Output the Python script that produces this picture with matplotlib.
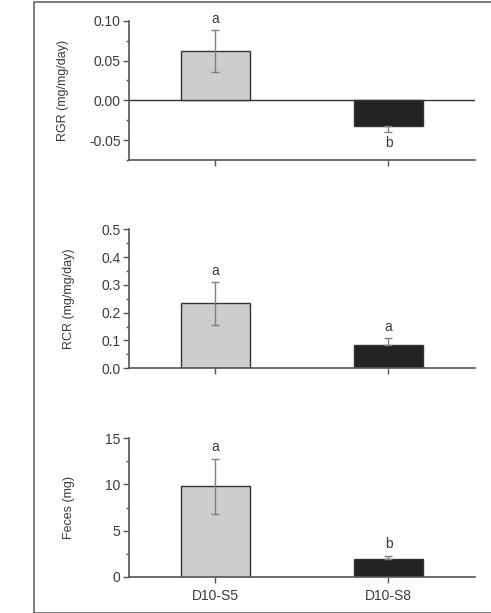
import matplotlib
matplotlib.use("Agg")
import matplotlib.pyplot as plt
from matplotlib.ticker import MultipleLocator
from matplotlib.patches import Rectangle

plt.rcParams['font.family'] = ['Liberation Sans', 'DejaVu Sans']

# Datos
grupos = ["D10-S5", "D10-S8"]

rgr = [0.062, -0.032]
rgr_err = [0.026, 0.008]
rgr_letras = ["a", "b"]

rcr = [0.234, 0.085]
rcr_err = [0.077, 0.025]
rcr_letras = ["a", "a"]

heces = [9.83, 1.89]
heces_err = [2.98, 0.40]
heces_letras = ["a", "b"]

colores = ["#cdcdcd", "#232323"]
gris = "#555555"

fig = plt.figure(figsize=(4.91, 6.13), dpi=100)

# marco exterior
fig.patches.append(Rectangle((34 / 491, 0.3 / 613), 1.0, 1 - 2.6 / 613,
                             transform=fig.transFigure, fill=False,
                             edgecolor="#666666", linewidth=1.2))

paneles = [
    dict(vals=rgr, err=rgr_err, letras=rgr_letras, ylim=(-0.075, 0.10),
         major=0.05, minor=0.025, fmt="{:.2f}", label="RGR (mg/mg/day)",
         pos=[0.2627, 0.739, 0.7047, 0.2272], labx=-0.173),
    dict(vals=rcr, err=rcr_err, letras=rcr_letras, ylim=(0, 0.5),
         major=0.1, minor=0.05, fmt="{:.1f}", label="RCR (mg/mg/day)",
         pos=[0.2627, 0.3992, 0.7047, 0.2267], labx=-0.156),
    dict(vals=heces, err=heces_err, letras=heces_letras, ylim=(0, 15),
         major=5, minor=2.5, fmt="{:.0f}", label="Feces (mg)",
         pos=[0.2627, 0.0592, 0.7047, 0.2258], labx=-0.156),
]

x = [0, 1]
for i, p in enumerate(paneles):
    ax = fig.add_axes(p["pos"])
    vals = p["vals"]
    err = p["err"]
    ax.bar(x, vals, width=0.4, color=colores, edgecolor="#333333",
           linewidth=1.0, zorder=2)
    # barra clara: error completo; barra oscura: sólo hacia fuera
    for j, (xi, v, e) in enumerate(zip(x, vals, err)):
        if j == 0:
            yerr = [[e], [e]]
        elif v >= 0:
            yerr = [[0], [e]]
        else:
            yerr = [[e], [0]]
        ax.errorbar(xi, v, yerr=yerr, fmt="none", ecolor="#808080",
                    elinewidth=1.0, capsize=3, capthick=1.0, zorder=3)
    rango = p["ylim"][1] - p["ylim"][0]
    for xi, v, e, l in zip(x, vals, err, p["letras"]):
        if v >= 0:
            ax.text(xi, v + e + rango * 0.03, l, ha="center", va="bottom",
                    fontsize=10, color="#3a3a3a")
        else:
            ax.text(xi, v - e - rango * 0.03, l, ha="center", va="top",
                    fontsize=10, color="#3a3a3a")

    ax.set_xlim(-0.5, 1.5)
    ax.set_ylim(*p["ylim"])
    ax.yaxis.set_major_locator(MultipleLocator(p["major"]))
    ax.yaxis.set_minor_locator(MultipleLocator(p["minor"]))
    ticks = [t for t in ax.get_yticks() if p["ylim"][0] - 1e-9 <= t <= p["ylim"][1] + 1e-9]
    ax.set_yticks(ticks)
    ax.set_yticklabels([p["fmt"].format(t) for t in ticks])
    ax.set_xticks(x)
    if i == 2:
        ax.set_xticklabels(grupos)
    else:
        ax.set_xticklabels(["", ""])

    for s in ["top", "right"]:
        ax.spines[s].set_visible(False)
    for s in ["left", "bottom"]:
        ax.spines[s].set_color(gris)
        ax.spines[s].set_linewidth(1.2)
    if p["ylim"][0] < 0:
        ax.axhline(0, color="#333333", linewidth=1.0, zorder=1)

    ax.tick_params(axis="both", which="major", length=4, width=1.0,
                   color=gris, labelcolor="#3a3a3a", labelsize=10, pad=2)
    ax.tick_params(axis="x", which="major", pad=5)
    ax.tick_params(axis="y", which="minor", length=2, width=1.0, color=gris)
    ax.set_ylabel(p["label"], fontsize=9, color="#3a3a3a")
    ax.yaxis.set_label_coords(p["labx"], 0.5)

fig.savefig("out.png", dpi=100)
